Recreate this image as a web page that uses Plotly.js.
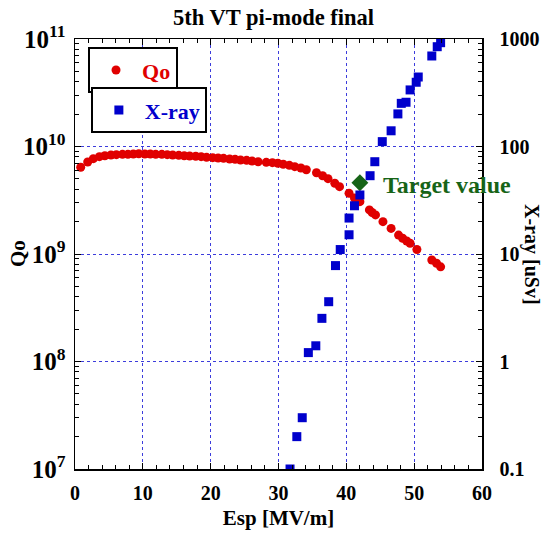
<!DOCTYPE html>
<html><head><meta charset="utf-8">
<script src="https://cdn.plot.ly/plotly-3.0.1.min.js"></script>
<style>body{margin:0;padding:0;background:#fff}#chart{width:547px;height:535px}</style>
</head><body><div id="chart"></div>
<script>
const qoEsp = [0.84,1.87,2.7,3.6,4.4,5.3,6.1,7.0,7.8,8.6,9.4,10.3,11.1,11.9,12.8,13.6,14.4,15.3,16.1,16.9,17.8,18.6,19.4,20.3,21.1,21.9,22.8,23.6,24.4,25.3,26.1,27.0,28.2,29.1,29.9,30.7,31.6,32.4,33.3,34.1,35.6,36.5,37.3,38.3,39.0,40.4,41.2,42.0,43.4,43.8,44.3,45.4,46.6,47.7,48.3,48.9,49.4,50.4,52.6,53.3,53.9];
const qoVal = [6.41e9,7.18e9,7.71e9,8.04e9,8.21e9,8.34e9,8.40e9,8.46e9,8.46e9,8.51e9,8.57e9,8.51e9,8.51e9,8.46e9,8.46e9,8.40e9,8.34e9,8.28e9,8.21e9,8.16e9,8.11e9,8.04e9,7.93e9,7.87e9,7.82e9,7.76e9,7.65e9,7.60e9,7.49e9,7.44e9,7.33e9,7.22e9,7.12e9,7.07e9,6.98e9,6.83e9,6.68e9,6.49e9,6.31e9,6.08e9,5.70e9,5.35e9,5.02e9,4.55e9,4.23e9,3.67e9,3.32e9,3.07e9,2.57e9,2.43e9,2.31e9,2.00e9,1.73e9,1.50e9,1.40e9,1.32e9,1.26e9,1.10e9,8.8e8,8.2e8,7.6e8];
const xrayEsp = [31.7,32.7,33.5,34.4,35.5,36.4,37.4,38.4,39.1,40.4,40.4,41.2,42.0,43.5,44.2,45.3,46.6,47.6,48.1,48.8,49.4,50.3,50.6,52.6,53.4,53.9];
const xrayVal = [0.1,0.2,0.30,1.21,1.40,2.52,3.60,7.8,11.0,15.1,21.6,28.1,35.4,53.5,72.2,111,140,201,252,258,336,396,443,695,848,924];
const targetEsp = [42.0];
const targetQo = [4.6e9];
const xTicks = [0,10,20,30,40,50,60];

const serif = "Liberation Serif, Times New Roman, serif";
const gridCol = "#3c3cdc";
const traces = [
  {x: qoEsp, y: qoVal, type:'scatter', mode:'markers', name:'Qo', legend:'legend',
   marker:{symbol:'circle', size:9, color:'#e00000'}},
  {x: xrayEsp, y: xrayVal, type:'scatter', mode:'markers', name:'X-ray', legend:'legend2', yaxis:'y2',
   marker:{symbol:'square', size:9, color:'#0000cc'}},
  {x: targetEsp, y: targetQo, type:'scatter', mode:'markers', name:'Target value', showlegend:false,
   marker:{symbol:'diamond', size:13, color:'#176417'}}
];
const layout = {
  width:547, height:535,
  margin:{l:75, r:64.5, t:39, b:66},
  paper_bgcolor:'#fff', plot_bgcolor:'#fff',
  font:{family:serif, color:'#000'},
  title:{text:'5th VT pi-mode final', font:{family:serif, size:22.5, weight:'bold', color:'#000'}, x:0.5, xanchor:'center', y:1-17.5/535, yanchor:'middle', yref:'container'},
  showlegend:true,
  legend:{x:0.032, y:0.981, xanchor:'left', yanchor:'top', bordercolor:'#000', borderwidth:2, bgcolor:'#fff', itemwidth:42,
    font:{family:serif, size:22, weight:'bold', color:'#e00000'}},
  legend2:{x:0.039, y:0.888, xanchor:'left', yanchor:'top', bordercolor:'#000', borderwidth:2, bgcolor:'#fff', itemwidth:42,
    font:{family:serif, size:22, weight:'bold', color:'#0000cc'}},
  xaxis:{range:[0,60], tickvals:xTicks, ticks:'inside', ticklen:6, tickcolor:'#000', showline:true, linecolor:'#000', linewidth:1.5, mirror:'ticks',
    showgrid:true, gridcolor:gridCol, griddash:'dot', gridwidth:1, zeroline:false, ticklabelstandoff:5,
    tickfont:{family:serif, size:20, weight:'bold'},
    minor:{dtick:2, ticks:'inside', ticklen:4, tickcolor:'#000', showgrid:false},
    title:{text:'Esp [MV/m]', font:{family:serif, size:21, weight:'bold'}, standoff:8}},
  yaxis:{type:'log', range:[7,11], dtick:1, exponentformat:'power', ticks:'inside', ticklen:6, tickcolor:'#000', showline:true, linecolor:'#000', linewidth:1.5,
    showgrid:true, gridcolor:gridCol, griddash:'dot', gridwidth:1, zeroline:false, ticklabelstandoff:4,
    tickfont:{family:serif, size:20, weight:'bold'},
    minor:{dtick:'D1', ticks:'inside', ticklen:4, tickcolor:'#000', showgrid:false}},
  yaxis2:{type:'log', range:[-1,3], dtick:1, exponentformat:'none', overlaying:'y', side:'right', ticks:'inside', ticklen:6, tickcolor:'#000', showline:true, linecolor:'#000', linewidth:1.5,
    showgrid:false, zeroline:false, ticklabelstandoff:12,
    tickfont:{family:serif, size:20, weight:'bold'},
    minor:{dtick:'D1', ticks:'inside', ticklen:4, tickcolor:'#000', showgrid:false}},
  annotations:[
    {x:45.1, y:9.642, xref:'x', yref:'y', text:'Target value', showarrow:false, xanchor:'left', yanchor:'middle',
     font:{family:serif, size:24, weight:'bold', color:'#176417'}},
    {x:0, xref:'paper', xshift:-57, y:0.5, yref:'paper', text:'Qo', textangle:-90, showarrow:false, xanchor:'center', yanchor:'middle',
     font:{family:serif, size:21, weight:'bold', color:'#000'}},
    {x:1.0, xref:'paper', xshift:50, y:0.5, yref:'paper', text:'X-ray [uSv]', textangle:90, showarrow:false, xanchor:'center', yanchor:'middle',
     font:{family:serif, size:20, weight:'bold', color:'#000'}}
  ]
};
Plotly.newPlot('chart', traces, layout, {staticPlot:true, displayModeBar:false});
</script></body></html>
